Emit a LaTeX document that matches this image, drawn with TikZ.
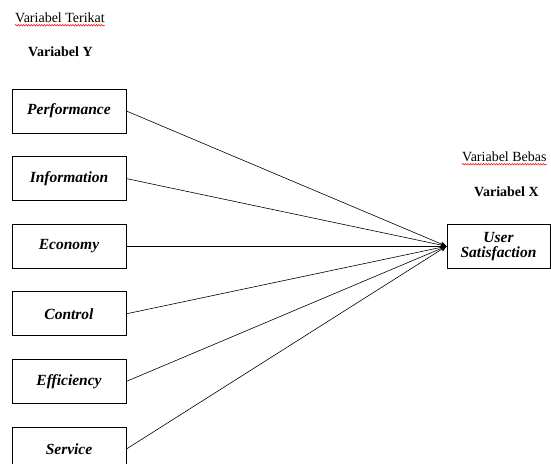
\documentclass[tikz,border=0pt]{standalone}
\usepackage{fontspec}
\setmainfont{Liberation Serif}
\usetikzlibrary{arrows.meta, positioning, calc, decorations.pathmorphing}
\newlength\varwd
\tikzset{
  varbox/.style={rectangle, draw=black, line width=0.8pt, fill=white,
                 minimum width=114pt, minimum height=44pt, inner sep=2pt,
                 align=center, font=\fontsize{15.5}{17}\selectfont\bfseries\itshape},
  vartext/.style={inner sep=0pt, anchor=west, font=\fontsize{14}{16}\selectfont},
  varhead/.style={vartext, font=\fontsize{14}{16}\selectfont\bfseries},
  squig/.style={red, line width=0.5pt, decorate,
                decoration={snake, amplitude=0.8pt, segment length=2.6pt}},
  link/.style={-{Stealth[length=6pt, width=5pt]}, line width=0.6pt, color=black},
}
\begin{document}
\begin{tikzpicture}[x=1pt, y=-1pt, node distance=22.8pt]
  \useasboundingbox (0,0) rectangle (551,463);
  \clip (0,0) rectangle (551,463);
  \settowidth{\varwd}{\fontsize{14}{16}\selectfont\bfseries Variabel}

  % Variabel Y (left column)
  \node[vartext] (terikat) at (15,18) {Variabel Terikat};
  \node[varhead] (vary) at (28,52) {Variabel Y};
  \draw[squig] ($(terikat.base west)+(0,2.5)$) -- ($(terikat.base east)+(0,2.5)$);
  \draw[squig] ($(vary.base west)+(0,2.5)$) -- ++(\varwd,0);

  \node[varbox] (perf) at (69,111) {Performance};
  \node[varbox, below=of perf] (info) {Information};
  \node[varbox, below=of info] (econ) {Economy};
  \node[varbox, below=of econ] (ctrl) {Control};
  \node[varbox, below=of ctrl] (effi) {Efficiency};
  \node[varbox, below=of effi] (serv) {Service};

  % Variabel X (right side)
  \node[vartext] (bebas) at (462,157) {Variabel Bebas};
  \node[varhead] (varx) at (474,192) {Variabel X};
  \draw[squig] ($(bebas.base west)+(0,2.5)$) -- ($(bebas.base east)+(0,2.5)$);
  \draw[squig] ($(varx.base west)+(0,2.5)$) -- ++(\varwd,0);
  \node[varbox, minimum width=103pt] (usat) at ($(econ)+(429.5,0)$)
    {User\\[-2pt] Satisfaction};

  % Links
  \foreach \src in {perf, info, econ, ctrl, effi, serv}{
    \draw[link] (\src.east) -- (usat.west);
  }
\end{tikzpicture}
\end{document}
